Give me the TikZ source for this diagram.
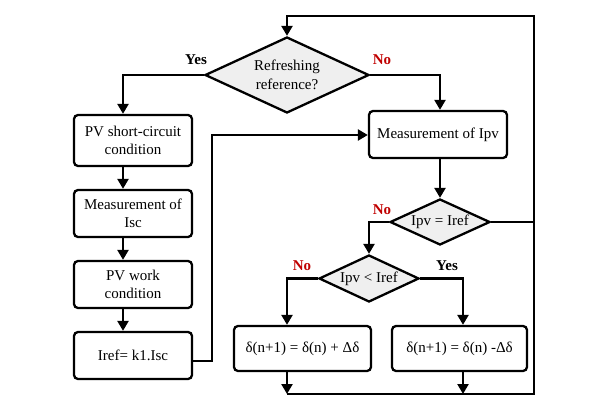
\documentclass[tikz,border=0pt]{standalone}
\usepackage{fontspec}
\setmainfont{Liberation Serif}
\usetikzlibrary{shapes.geometric,arrows.meta}
\definecolor{nored}{HTML}{C00000}
\definecolor{dfill}{HTML}{EFEFEF}
\tikzset{
  every node/.style={font=\fontsize{15}{18.5}\selectfont},
  ln/.style={line width=2.3pt},
  arr/.style={ln,-{Triangle[length=10pt,width=11pt]}},
  box/.style={draw,ln,rounded corners=4pt,align=center,inner sep=0pt},
  dia/.style={draw,ln,diamond,fill=dfill,inner sep=0pt},
  yes/.style={font=\fontsize{15}{18}\selectfont\bfseries},
  no/.style={font=\fontsize{15}{18}\selectfont\bfseries,text=nored},
}
\begin{document}
\begin{tikzpicture}[x=1pt,y=-1pt]
\useasboundingbox (0,0) rectangle (589,415);
% diamonds
\node[dia,minimum width=164pt,minimum height=76pt] (d1) at (287,75) {};
\node[align=center] (t1) at (287,75) {Refreshing\\reference?};
\node[dia,minimum width=100pt,minimum height=46pt] (d2) at (440,222) {};
\node (t2) at (440,222) {Ipv = Iref};
\node[dia,minimum width=100pt,minimum height=47pt] (d3) at (369,278.5) {};
\node (t3) at (369,278.5) {Ipv {\textless} Iref};
% boxes
\node[box,minimum width=118pt,minimum height=51pt] (b1) at (133,140.5) {PV short-circuit\\condition};
\node[box,minimum width=118pt,minimum height=47pt] (b2) at (133,213.5) {Measurement of\\Isc};
\node[box,minimum width=118pt,minimum height=47pt] (b3) at (133,284.5) {PV work\\condition};
\node[box,minimum width=118pt,minimum height=47pt] (b4) at (133,355.5) {Iref= k1.Isc};
\node[box,minimum width=138pt,minimum height=47pt] (m) at (438,134.5) {Measurement of Ipv};
\node[box,minimum width=137pt,minimum height=45pt] (bl) at (302.5,348.5) {δ(n+1) = δ(n) + Δδ};
\node[box,minimum width=135pt,minimum height=45pt] (br) at (459.5,348.5) {δ(n+1) = δ(n) -Δδ};
% coordinates
\coordinate (xa) at (123,0);
\coordinate (xm) at (440,0);
\coordinate (xl) at (287,0);
\coordinate (xr) at (463,0);
\coordinate (lb) at (287,394);
\coordinate (mb) at (463,394);
\coordinate (rb) at (534,394);
\coordinate (rt) at (534,16);
\coordinate (lt) at (287,16);
\coordinate (k1) at (212,361);
\coordinate (k2) at (212,135);
% connectors
\draw[arr] (d1.west) -| (b1.north -| xa);
\draw[arr] (b1.south -| xa) -- (b2.north -| xa);
\draw[arr] (b2.south -| xa) -- (b3.north -| xa);
\draw[arr] (b3.south -| xa) -- (b4.north -| xa);
\draw[arr] (d1.east) -| (m.north -| xm);
\draw[arr] (b4.east |- k1) -- (k1) -- (k2) -- (m.west |- k2);
\draw[arr] (m.south -| xm) -- (d2.north);
\draw[arr] (d2.west) -| (d3.north);
\draw[arr] (d3.west) -| (bl.north -| xl);
\draw[arr] (d3.east) -| (br.north -| xr);
\draw[arr] (bl.south -| xl) -- (lb);
\draw[arr] (br.south -| xr) -- (mb);
\draw[ln] (d2.east) -- (d2.east -| rt);
\draw[arr,line join=miter] (lb) -- (rb) -- (rt) -- (lt) -- (d1.north);
% labels
\node[yes] (y1) at (196,60) {Yes};
\node[no] (n1) at (382,60) {No};
\node[no] (n2) at (382,210) {No};
\node[no] (n3) at (302,266) {No};
\node[yes] (y2) at (447,266) {Yes};
\end{tikzpicture}
\end{document}
